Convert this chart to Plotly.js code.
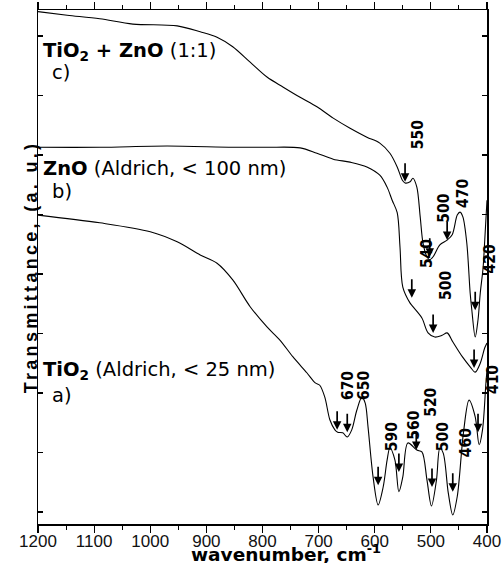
<!DOCTYPE html>
<html><head><meta charset="utf-8">
<script src="https://cdn.plot.ly/plotly-3.0.1.min.js"></script>
<style>html,body{margin:0;padding:0;background:#fff;} .ytitle{letter-spacing:3.3px; translate:6px 0;}</style>
</head><body><div id="chart" style="width:503px;height:563px;"></div>
<script>
// Spectrum c) TiO2 + ZnO (1:1)
const wnC = [1200,1148,1090,1031,952,911,881,853,822,792,763,733,703,674,644,614,591,573,560,551,546,537,532,525,519,514,507,502,496,484,471,462,453,448,443,436,430,427,421,416,412,407,404,400];
const tC  = [84.1,83.5,82.9,82.0,81.7,80.7,79.8,78.2,75.6,73.1,71.4,69.7,68.1,66.2,64.5,63.0,62.0,60.3,58.0,55.8,55.3,55.5,56.1,54.6,49.6,45.2,42.9,42.4,42.9,44.9,45.7,46.6,49.9,50.4,49.6,45.2,36.8,33.9,29.4,32.3,36.8,41.0,45.7,52.4];
// Spectrum b) ZnO
const wnB = [1200,1090,970,853,792,733,703,674,644,614,591,578,569,560,555,550,537,532,516,505,493,480,471,461,444,430,421,412,404,400];
const tB  = [61.3,61.3,61.5,61.3,61.3,61.2,60.3,59.3,58.8,58.0,56.6,54.6,52.4,50.3,44.5,37.8,35.1,34.5,32.6,30.1,29.4,29.7,30.1,28.6,26.1,24.4,23.5,25.0,27.6,28.4];
// Spectrum a) TiO2
const wnA = [1200,1090,1000,952,911,881,853,822,792,769,746,721,706,698,689,680,671,666,657,649,641,632,623,617,612,603,594,585,578,573,564,557,550,541,525,516,507,499,490,484,478,469,461,453,442,432,421,414,408,402,400];
const tA  = [49.9,48.6,47.1,45.4,43.2,41.8,39.0,34.5,31.1,28.9,26.1,23.4,21.7,21.3,19.3,15.5,13.8,13.4,13.3,12.6,13.8,17.1,19.3,18.3,14.3,5.9,1.2,4.2,8.7,10.8,8.7,3.4,5.9,11.6,10.4,10.1,5.4,1.0,5.4,10.7,9.9,3.2,-0.5,2.6,13.3,18.8,16.0,11.3,13.8,21.6,23.9];

// Band arrows (tip positions)
const arrowWn = [546,502,471,421,534,496,423,667,649,594,557,526,498,461,416];
const arrowT  = [55.5,42.9,45.7,33.9,36.0,30.1,24.2,13.8,13.4,4.5,6.7,10.4,4.2,3.4,13.4];

// Band labels
const labelText = ["550","540","500","470","420","500","410","670","650","590","560","520","500","460"];
const labelWn   = [523,507,477,443,394,473,389,648,619,569,530,500,478,437];
const labelT    = [63.5,43.5,51.1,53.6,42.5,38.0,22.2,21.3,21.2,12.6,14.5,18.5,12.6,11.6];

// Sample labels
const sampleText = ["<b>TiO<sub>2</sub> + ZnO</b> (1:1)","c)","<b>ZnO</b> (Aldrich, &lt; 100 nm)","b)","<b>TiO<sub>2</sub></b> (Aldrich, &lt; 25 nm)","a)"];
const sampleWn   = [1194,1179,1194,1179,1194,1179];
const sampleT    = [77.4,73.8,57.8,53.8,23.8,19.5];

const xTickVals = [1200,1100,1000,900,800,700,600,500,400];
const xRange = [1200,400];
const yRange = [-2.02,84.37];

const lineStyle = {color:'#000', width:1.1, shape:'spline', smoothing:0.9};
const traces = [
  {x:wnC, y:tC, mode:'lines', line:lineStyle, hoverinfo:'skip', showlegend:false},
  {x:wnB, y:tB, mode:'lines', line:lineStyle, hoverinfo:'skip', showlegend:false},
  {x:wnA, y:tA, mode:'lines', line:lineStyle, hoverinfo:'skip', showlegend:false}
];

const annotations = [];
for (let i=0;i<arrowWn.length;i++){
  annotations.push({x:arrowWn[i], y:arrowT[i], xref:'x', yref:'y', text:'', showarrow:true,
    ax:0, ay:-20, arrowhead:2, arrowsize:1, arrowwidth:1.7, arrowcolor:'#000', standoff:0});
}
const toPaper = wn => (xRange[0]-wn)/(xRange[0]-xRange[1]);
for (let i=0;i<labelText.length;i++){
  const out = labelWn[i] < xRange[1];
  annotations.push({x: out ? toPaper(labelWn[i]) : labelWn[i], xref: out ? 'paper':'x',
    y:labelT[i], yref:'y', text:'<b>'+labelText[i]+'</b>', showarrow:false, textangle:-90,
    xanchor:'center', yanchor:'middle',
    font:{family:'Liberation Sans Narrow, DejaVu Sans Condensed, Liberation Sans, Arial', size:15.5, color:'#000'}});
}
for (let i=0;i<sampleText.length;i++){
  annotations.push({x:sampleWn[i], y:sampleT[i], xref:'x', yref:'y', text:sampleText[i], showarrow:false,
    xanchor:'left', yanchor:'middle',
    font:{family:'DejaVu Sans, Liberation Sans, Arial', size:19.5, color:'#000'}});
}
// x-axis title
annotations.push({x:0.552, y:-0.057, xref:'paper', yref:'paper', text:'<b>wavenumber, cm<sup>-1</sup></b>',
  showarrow:false, xanchor:'center', yanchor:'middle',
  font:{family:'DejaVu Sans, Liberation Sans, Arial', size:18.5, color:'#000'}});

const layout = {
  width:503, height:563,
  margin:{l:38, r:16, t:10, b:39},
  paper_bgcolor:'#fff', plot_bgcolor:'#fff',
  showlegend:false,
  xaxis:{range:xRange, tickvals:xTickVals, ticks:'outside', ticklen:7, tickwidth:1.2, tickcolor:'#000',
    ticklabelstandoff:-6,
    minor:{dtick:50, tick0:400, ticks:'outside', ticklen:4, tickwidth:1, tickcolor:'#000'},
    showline:true, linewidth:1.5, linecolor:'#000', mirror:'ticks', showgrid:false, zeroline:false,
    tickfont:{family:'Liberation Sans, Arial', size:17, color:'#111'}},
  yaxis:{range:yRange, tick0:0, dtick:10, ticks:'inside', ticklen:5, tickwidth:1.2, tickcolor:'#000',
    showticklabels:false, showline:true, linewidth:1.5, linecolor:'#000', mirror:'ticks',
    showgrid:false, zeroline:false,
    title:{text:'Transmittance, (a. u.)', standoff:0,
      font:{family:'Liberation Sans, Arial', size:18, color:'#000', weight:'bold'}}},
  annotations:annotations
};
Plotly.newPlot('chart', traces, layout, {staticPlot:true, displayModeBar:false});
</script></body></html>
